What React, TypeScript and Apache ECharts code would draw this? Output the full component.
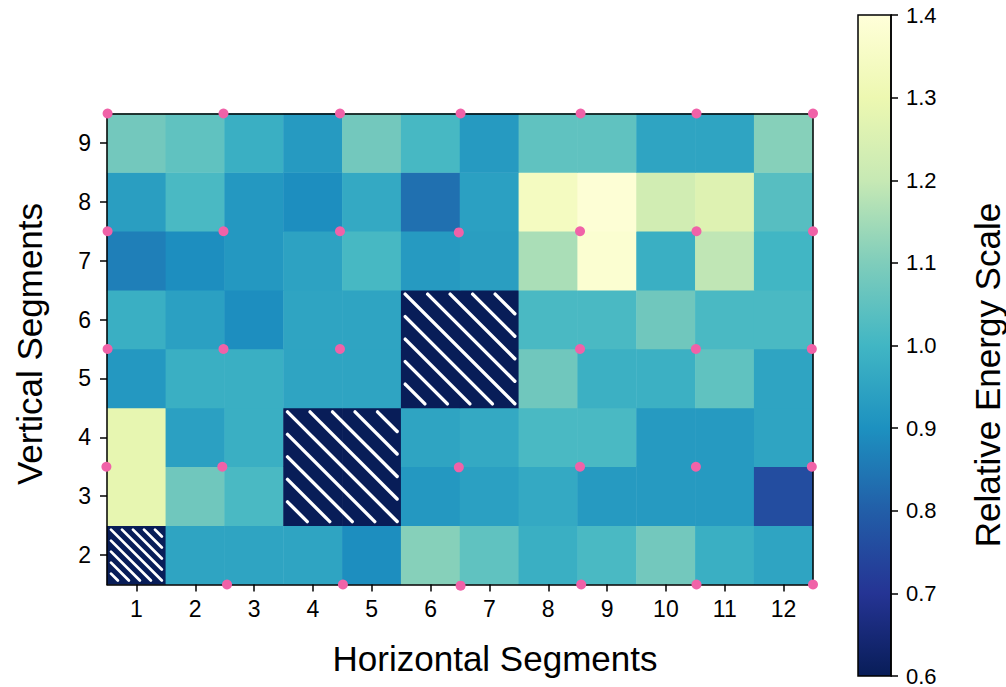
import React, { useEffect, useRef } from "react";
import * as echarts from "echarts";

// ---------- data ----------
const X_CATEGORIES = ["1", "2", "3", "4", "5", "6", "7", "8", "9", "10", "11", "12"];
const Y_CATEGORIES = ["2", "3", "4", "5", "6", "7", "8", "9"];

// relative energy per cell, one array per vertical segment (columns 1..12)
const ROW_Y2 = [0.6, 0.95, 0.95, 0.95, 0.895, 1.11, 1.05, 0.98, 1.015, 1.08, 0.98, 0.95];
const ROW_Y3 = [1.285, 1.075, 1.015, 0.6, 0.6, 0.92, 0.94, 0.965, 0.925, 0.925, 0.925, 0.76];
const ROW_Y4 = [1.285, 0.94, 0.98, 0.6, 0.6, 0.95, 0.965, 1.015, 1.015, 0.925, 0.925, 0.95];
const ROW_Y5 = [0.92, 0.98, 0.98, 0.95, 0.95, 0.6, 0.6, 1.075, 0.985, 0.985, 1.05, 0.95];
const ROW_Y6 = [0.98, 0.94, 0.895, 0.95, 0.95, 0.6, 0.6, 1.015, 1.015, 1.075, 1.015, 1.015];
const ROW_Y7 = [0.865, 0.895, 0.92, 0.945, 1.01, 0.925, 0.935, 1.16, 1.38, 0.98, 1.19, 1.0];
const ROW_Y8 = [0.935, 1.015, 0.92, 0.895, 0.965, 0.835, 0.94, 1.34, 1.39, 1.225, 1.26, 1.035];
const ROW_Y9 = [1.08, 1.05, 0.98, 0.925, 1.08, 1.01, 0.925, 1.05, 1.05, 0.95, 0.95, 1.11];
const ROWS = [ROW_Y2, ROW_Y3, ROW_Y4, ROW_Y5, ROW_Y6, ROW_Y7, ROW_Y8, ROW_Y9];

// masked (hatched) regions: [xFrom, xTo, yFrom, yTo] in segment units
const HATCH_BLOCKS = [
  [0.5, 1.5, 1.5, 2.5],
  [3.5, 5.5, 2.5, 4.5],
  [5.5, 7.5, 4.5, 6.5],
];

// sensor markers at grid corners [x, y]
const MARKERS = [
  [0.51, 9.5], [2.48, 9.5], [4.46, 9.5], [6.51, 9.5], [8.55, 9.5], [10.52, 9.5], [12.5, 9.5],
  [0.51, 7.5], [2.48, 7.5], [4.46, 7.5], [6.48, 7.48], [8.54, 7.5], [10.52, 7.5], [12.5, 7.5],
  [0.51, 5.5], [2.48, 5.5], [4.46, 5.5], [8.54, 5.5], [10.51, 5.5], [12.48, 5.5],
  [0.49, 3.5], [2.46, 3.5], [6.48, 3.49], [8.54, 3.5], [10.51, 3.5], [12.48, 3.5],
  [2.54, 1.5], [4.51, 1.5], [6.51, 1.48], [8.56, 1.5], [10.52, 1.5], [12.5, 1.5],
];

const COLOR_MIN = 0.6;
const COLOR_MAX = 1.4;
const COLOR_STEP = 0.1;
// YlGnBu, low -> high
const YLGNBU = ["#081d58", "#253494", "#225ea8", "#1d91c0", "#41b6c4", "#7fcdbb", "#c7e9b4", "#edf8b1", "#ffffd9"];

// ---------- styles ----------
const FONT = "'Liberation Sans', Arial, Helvetica, sans-serif";
const HATCH_SPACING = [11, 22.5, 22.5];
const HATCH_WIDTH = [2.8, 3.4, 3.4];
const MARKER_COLOR = "#f062a8";

export default function App() {
  const ref = useRef<HTMLDivElement>(null);

  useEffect(() => {
    if (!ref.current) return;
    const chart = echarts.init(ref.current, undefined, { renderer: "svg" });

    const heatData: number[][] = [];
    ROWS.forEach((row, yi) => row.forEach((v, xi) => heatData.push([xi, yi, v])));

    const hatchData = HATCH_BLOCKS.map((b, i) => [b[0], b[1], b[2], b[3], i]);

    const axisLineStyle = { color: "#000", width: 1.5 };
    const tickLabel = { color: "#000", fontSize: 23, fontFamily: FONT };

    const option: any = {
      animation: false,
      textStyle: { fontFamily: FONT },
      grid: [
        { left: 107, top: 113.5, width: 706, height: 471, show: false },
        { left: 858, top: 15, width: 33, height: 661, show: true, borderColor: "#000", borderWidth: 1.5, backgroundColor: "transparent", z: 10 },
      ],
      xAxis: [
        {
          type: "category", gridIndex: 0, data: X_CATEGORIES, position: "bottom", z: 10,
          axisLine: { show: true, lineStyle: axisLineStyle },
          axisTick: { show: true, alignWithLabel: true, length: 7, lineStyle: axisLineStyle },
          axisLabel: { ...tickLabel, margin: 13 },
          splitLine: { show: false },
        },
        {
          type: "value", gridIndex: 0, min: 0.5, max: 12.5, position: "top", z: 10,
          axisLine: { show: true, onZero: false, lineStyle: axisLineStyle },
          axisTick: { show: false }, axisLabel: { show: false }, splitLine: { show: false },
        },
        {
          type: "value", gridIndex: 1, min: 0, max: 1, show: false,
        },
      ],
      yAxis: [
        {
          type: "category", gridIndex: 0, data: Y_CATEGORIES, position: "left", z: 10,
          axisLine: { show: true, lineStyle: axisLineStyle },
          axisTick: { show: true, alignWithLabel: true, length: 7, lineStyle: axisLineStyle },
          axisLabel: { ...tickLabel, margin: 16 },
          splitLine: { show: false },
        },
        {
          type: "value", gridIndex: 0, min: 1.5, max: 9.5, position: "right", z: 10,
          axisLine: { show: true, onZero: false, lineStyle: axisLineStyle },
          axisTick: { show: false }, axisLabel: { show: false }, splitLine: { show: false },
        },
        {
          type: "value", gridIndex: 1, min: COLOR_MIN, max: COLOR_MAX, interval: COLOR_STEP, position: "right", z: 10,
          axisLine: { show: true, onZero: false, lineStyle: axisLineStyle },
          axisTick: { show: true, length: 7, lineStyle: axisLineStyle },
          axisLabel: { ...tickLabel, fontSize: 22, margin: 15, formatter: (v: number) => v.toFixed(1) },
          splitLine: { show: false },
        },
      ],
      visualMap: {
        show: false, type: "continuous", min: COLOR_MIN, max: COLOR_MAX, seriesIndex: 0,
        inRange: { color: YLGNBU },
      },
      series: [
        {
          type: "heatmap", xAxisIndex: 0, yAxisIndex: 0, data: heatData, z: 2,
          itemStyle: { borderWidth: 0 },
        },
        {
          type: "custom", xAxisIndex: 1, yAxisIndex: 1, data: hatchData, z: 5, clip: false,
          renderItem: (params: any, api: any) => {
            const x0 = api.value(0), x1 = api.value(1), y0 = api.value(2), y1 = api.value(3);
            const idx = api.value(4);
            const tl = api.coord([x0, y1]);
            const br = api.coord([x1, y0]);
            const inset = 4;
            const L = tl[0] + inset, T = tl[1] + inset, R = br[0] - inset, B = br[1] - inset;
            const s = HATCH_SPACING[idx];
            const lw = HATCH_WIDTH[idx];
            const W = br[0] - tl[0], H = br[1] - tl[1];
            const children: any[] = [];
            for (let k = -Math.ceil(H / s); k <= Math.ceil(W / s); k++) {
              const d = k * s + tl[0] - tl[1];
              const xs = Math.max(L, T + d);
              const xe = Math.min(R, B + d);
              if (xe - xs > 1) {
                children.push({
                  type: "line",
                  shape: { x1: xs, y1: xs - d, x2: xe, y2: xe - d },
                  style: { stroke: "#ffffff", lineWidth: lw, lineCap: "round" },
                });
              }
            }
            return { type: "group", children };
          },
        },
        {
          type: "scatter", xAxisIndex: 1, yAxisIndex: 1, data: MARKERS, z: 20, clip: false,
          symbol: "circle", symbolSize: 10, itemStyle: { color: MARKER_COLOR, opacity: 1 },
        },
        {
          type: "custom", xAxisIndex: 2, yAxisIndex: 2, data: [[0, COLOR_MIN, 1, COLOR_MAX]], z: 2,
          renderItem: (params: any, api: any) => {
            const tl = api.coord([api.value(0), api.value(3)]);
            const br = api.coord([api.value(2), api.value(1)]);
            const n = YLGNBU.length;
            const stops = YLGNBU.map((c, i) => ({ offset: 1 - i / (n - 1), color: c })).reverse();
            return {
              type: "rect",
              shape: { x: tl[0], y: tl[1], width: br[0] - tl[0], height: br[1] - tl[1] },
              style: { fill: new echarts.graphic.LinearGradient(0, 0, 0, 1, stops) },
            };
          },
        },
      ],
      graphic: [
        {
          type: "text", x: 29, y: 344, rotation: Math.PI / 2,
          style: { text: "Vertical Segments", fontSize: 35, fontFamily: FONT, fill: "#000", align: "center", verticalAlign: "middle" },
        },
        {
          type: "text", x: 495, y: 658,
          style: { text: "Horizontal Segments", fontSize: 35, fontFamily: FONT, fill: "#000", align: "center", verticalAlign: "middle" },
        },
        {
          type: "text", x: 987, y: 375, rotation: Math.PI / 2,
          style: { text: "Relative Energy Scale", fontSize: 35, fontFamily: FONT, fill: "#000", align: "center", verticalAlign: "middle" },
        },
      ],
    };

    chart.setOption(option);
    return () => chart.dispose();
  }, []);

  return (
    <div
      ref={ref}
      style={{ position: "fixed", left: 0, top: 0, width: 1006, height: 687, background: "#fff" }}
    />
  );
}
